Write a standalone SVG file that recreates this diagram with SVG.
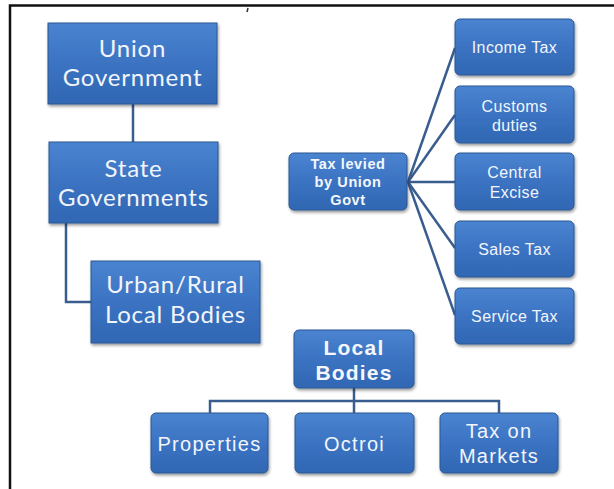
<svg xmlns="http://www.w3.org/2000/svg" width="614" height="489" viewBox="0 0 614 489">
  <defs>
    <linearGradient id="boxFill" x1="0" y1="0" x2="0" y2="1">
      <stop offset="0" stop-color="#4a84d0"/>
      <stop offset="0.5" stop-color="#3b73c2"/>
      <stop offset="1" stop-color="#3067b3"/>
    </linearGradient>
    <filter id="shadow" x="-10%" y="-10%" width="125%" height="135%">
      <feDropShadow dx="1" dy="2" stdDeviation="1.5" flood-color="#000" flood-opacity="0.4"/>
    </filter>
  </defs>
  <style>
    .box { fill: url(#boxFill); stroke: #2a5793; stroke-width: 1; filter: url(#shadow); }
    .wire { fill: none; stroke: #3a5d90; stroke-width: 2.5; }
    .cal { font-family: Lato, "Open Sans", sans-serif; font-size: 24px; letter-spacing: 0.8px; fill: #f2f5fb; text-anchor: middle; }
    .ari { font-family: "Liberation Sans", Arial, sans-serif; font-size: 16px; letter-spacing: 0.4px; fill: #f2f5fb; text-anchor: middle; }
    .arb { font-family: "Liberation Sans", Arial, sans-serif; font-weight: bold; font-size: 14.5px; letter-spacing: 0.6px; fill: #f4f7fc; text-anchor: middle; }
    .big { font-family: "Liberation Sans", Arial, sans-serif; font-size: 20px; letter-spacing: 1.3px; fill: #f2f5fb; text-anchor: middle; }
    .bigb { font-family: "Liberation Sans", Arial, sans-serif; font-weight: bold; font-size: 21px; letter-spacing: 1.2px; fill: #f4f7fc; text-anchor: middle; }
  </style>

  <rect width="614" height="489" fill="#ffffff"/>
  <!-- frame -->
  <path d="M10,489 V5.5 H614" fill="none" stroke="#111" stroke-width="2.5"/>
  <path d="M248,8 L247,12" stroke="#333" stroke-width="1.5"/>

  <g id="connectors">
    <path class="wire" d="M133,104 V142"/>
    <path class="wire" d="M66,223 V302 H91"/>
    <path class="wire" d="M408,182 L455,48"/>
    <path class="wire" d="M408,182 L455,115"/>
    <path class="wire" d="M408,182 L455,182"/>
    <path class="wire" d="M408,182 L455,248"/>
    <path class="wire" d="M408,182 L455,315"/>
    <path class="wire" d="M354,388 V401 M210,413 V401 H499 V413 M354,401 V413"/>
  </g>

  <g id="union-government">
    <rect class="box" x="48" y="23" width="169" height="81"/>
    <text class="cal" x="132.5" y="57">Union</text>
    <text class="cal" x="132.5" y="86">Government</text>
  </g>
  <g id="state-governments">
    <rect class="box" x="49" y="142" width="169" height="81"/>
    <text class="cal" x="133.5" y="177">State</text>
    <text class="cal" x="133.5" y="206">Governments</text>
  </g>
  <g id="urban-rural">
    <rect class="box" x="91" y="261" width="169" height="82"/>
    <text class="cal" x="175.5" y="293">Urban/Rural</text>
    <text class="cal" x="175.5" y="323">Local Bodies</text>
  </g>

  <g id="tax-union">
    <rect class="box" x="289" y="153" width="118" height="57" rx="5"/>
    <text class="arb" x="348" y="169">Tax levied</text>
    <text class="arb" x="348" y="187">by Union</text>
    <text class="arb" x="348" y="205">Govt</text>
  </g>
  <g id="income-tax">
    <rect class="box" x="455" y="19" width="119" height="56" rx="5"/>
    <text class="ari" x="514.5" y="53">Income Tax</text>
  </g>
  <g id="customs">
    <rect class="box" x="455" y="86" width="119" height="57" rx="5"/>
    <text class="ari" x="514.5" y="112">Customs</text>
    <text class="ari" x="514.5" y="131">duties</text>
  </g>
  <g id="central-excise">
    <rect class="box" x="455" y="153" width="119" height="57" rx="5"/>
    <text class="ari" x="514.5" y="178">Central</text>
    <text class="ari" x="514.5" y="198">Excise</text>
  </g>
  <g id="sales-tax">
    <rect class="box" x="455" y="221" width="119" height="56" rx="5"/>
    <text class="ari" x="514.5" y="255">Sales Tax</text>
  </g>
  <g id="service-tax">
    <rect class="box" x="455" y="288" width="119" height="56" rx="5"/>
    <text class="ari" x="514.5" y="322">Service Tax</text>
  </g>

  <g id="local-bodies">
    <rect class="box" x="294" y="330" width="120" height="58" rx="5"/>
    <text class="bigb" x="354" y="355">Local</text>
    <text class="bigb" x="354" y="380">Bodies</text>
  </g>
  <g id="properties">
    <rect class="box" x="151" y="413" width="117" height="60" rx="5"/>
    <text class="big" x="209.5" y="451">Properties</text>
  </g>
  <g id="octroi">
    <rect class="box" x="295" y="413" width="119" height="60" rx="5"/>
    <text class="big" x="354.5" y="451">Octroi</text>
  </g>
  <g id="tax-on-markets">
    <rect class="box" x="440" y="413" width="118" height="60" rx="5"/>
    <text class="big" x="499" y="438">Tax on</text>
    <text class="big" x="499" y="463">Markets</text>
  </g>
</svg>
